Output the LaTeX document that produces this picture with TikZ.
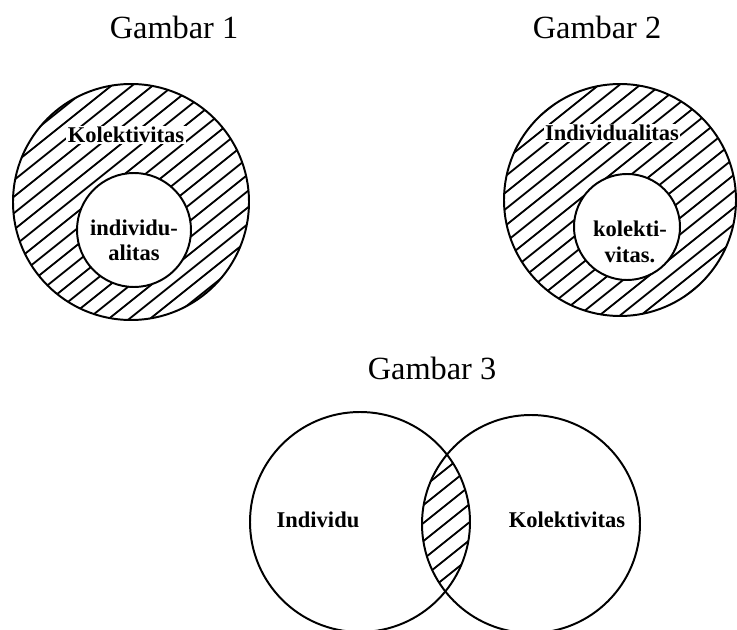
\documentclass[tikz,border=0pt]{standalone}
\usepackage{fontspec}
\setmainfont{Liberation Serif}

\begin{document}
\begin{tikzpicture}[x=0.025cm,y=-0.025cm,line width=1.4pt,
  hatch/.style={line width=1.3pt},
  judul/.style={font=\fontsize{23}{23}\selectfont},
  isi/.style={font=\bfseries\fontsize{16}{18}\selectfont,align=center,inner sep=1pt}]
\useasboundingbox (0,0) rectangle (737,630);

% Gambar 1
\node[judul](g1) at (174,27){Gambar 1};
\begin{scope}[even odd rule]
\clip(131,202) circle (118) (134,230) circle (57);
\foreach \i in {-14,...,14}
  \draw[hatch](-69,362+\i*16.5)--++(400,-320);
\end{scope}
\draw(131,202) circle (118);
\draw(134,230) circle (57);
\node[isi,fill=white](kol1) at (126,135){Kolektivitas};
\node[isi](ind1) at (134,240){individu-\\alitas};

% Gambar 2
\node[judul](g2) at (597,27){Gambar 2};
\begin{scope}[even odd rule]
\clip(620,200) circle (116) (627,227) circle (53);
\foreach \i in {-14,...,14}
  \draw[hatch](420,360+\i*16.5)--++(400,-320);
\end{scope}
\draw(620,200) circle (116);
\draw(627,227) circle (53);
\node[isi,fill=white](ind2) at (612,133){Individualitas};
\node[isi](kol2) at (630,242){kolekti-\\vitas.};

% Gambar 3
\node[judul](g3) at (432,368){Gambar 3};
\begin{scope}
\clip(360,522) circle (110);
\clip(531,524) circle (109);
\foreach \i in {-8,...,8}
  \draw[hatch](246,683+\i*18)--++(400,-320);
\end{scope}
\draw(360,522) circle (110);
\draw(531,524) circle (109);
\node[isi](ind3) at (318,520){Individu};
\node[isi](kol3) at (567,520){Kolektivitas};

\end{tikzpicture}
\end{document}
